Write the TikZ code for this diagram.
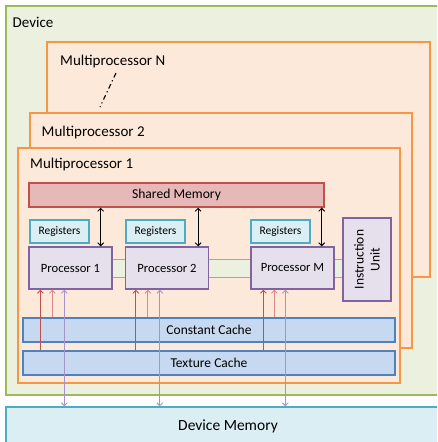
\documentclass[tikz,border=0pt]{standalone}
\usepackage{fontspec}
\setmainfont{Carlito}
\usetikzlibrary{arrows.meta}

\definecolor{devfill}{HTML}{EBF1DE}
\definecolor{devdraw}{HTML}{9BBB59}
\definecolor{mpfill}{HTML}{FDE9D9}
\definecolor{mpdraw}{HTML}{F79646}
\definecolor{smfill}{HTML}{E6B9B8}
\definecolor{smdraw}{HTML}{C0504D}
\definecolor{regfill}{HTML}{DBEEF4}
\definecolor{regdraw}{HTML}{4BACC6}
\definecolor{procfill}{HTML}{E5E0EC}
\definecolor{procdraw}{HTML}{8064A2}
\definecolor{cachefill}{HTML}{C6D9F1}
\definecolor{cachedraw}{HTML}{4F81BD}
\definecolor{redA}{HTML}{C0504D}
\definecolor{redB}{HTML}{D98A88}
\definecolor{purp}{HTML}{A893C8}

\tikzset{
  box/.style={draw, line width=1.3pt, inner sep=0pt, anchor=center},
  devbox/.style={box, fill=devfill, draw=devdraw},
  mpbox/.style={box, fill=mpfill, draw=mpdraw},
  smbox/.style={box, fill=smfill, draw=smdraw, font=\fontsize{13.6}{15}\selectfont},
  regbox/.style={box, fill=regfill, draw=regdraw, minimum width=59pt, minimum height=23pt, font=\fontsize{11.5}{13}\selectfont},
  procbox/.style={box, fill=procfill, draw=procdraw, minimum width=83pt, minimum height=42pt, font=\fontsize{12.6}{14}\selectfont},
  cachebox/.style={box, fill=cachefill, draw=cachedraw, minimum width=372pt, minimum height=24pt, font=\fontsize{13.5}{15}\selectfont},
  buswire/.style={box, fill=devfill, draw=devdraw, line width=1pt},
  title/.style={anchor=base west, inner sep=0pt, font=\fontsize{15}{17}\selectfont},
  smlink/.style={draw=black, line width=0.9pt, {Straight Barb[length=3pt,width=6pt]}-{Straight Barb[length=3pt,width=6pt]}},
  readA/.style={draw=redA, line width=0.9pt, -{Straight Barb[length=3pt,width=6pt]}},
  readB/.style={draw=redB, line width=0.9pt, -{Straight Barb[length=3pt,width=6pt]}},
  memlink/.style={draw=purp, line width=0.9pt, {Straight Barb[length=3pt,width=6pt]}-{Straight Barb[length=3pt,width=6pt]}},
}

\begin{document}
\begin{tikzpicture}[x=1pt, y=-1pt]
\clip (0,0) rectangle (437,442);

% device and its multiprocessors
\node[devbox, minimum width=444pt, minimum height=389pt] (dev) at (228,200.5) {};
\node[title] (devlbl) at (12.5,27.3) {Device};

\node[mpbox, minimum width=383pt, minimum height=235pt] (mpN) at (238.5,159.5) {};
\node[title] (mpNlbl) at (60,65.3) {Multiprocessor N};
\coordinate (dotsA) at (116,73);
\coordinate (dotsB) at (100,107);
\draw[line width=1.1pt, dash pattern=on 5pt off 3pt on 1.2pt off 3pt] (dotsA) -- (dotsB);

\node[mpbox, minimum width=382pt, minimum height=235pt] (mp2) at (221,230.5) {};
\node[title] (mp2lbl) at (41.5,136) {Multiprocessor 2};

\node[mpbox, minimum width=382pt, minimum height=235pt] (mp1) at (209,265.5) {};
\node[title] (mp1lbl) at (30,168.3) {Multiprocessor 1};

% shared memory and registers
\node[smbox, minimum width=295pt, minimum height=24pt] (sm) at (176.5,195) {Shared Memory};
\node[regbox] (reg1) at (59.5,231.5) {Registers};
\node[regbox] (reg2) at (155.5,231.5) {Registers};
\node[regbox] (reg3) at (280.5,231.5) {Registers};

% instruction bus behind the processors
\node[buswire, minimum width=273pt, minimum height=18pt] (bus) at (206.5,268) {};

% processors and instruction unit
\node[procbox] (p1) at (70.5,268) {Processor 1};
\node[procbox] (p2) at (167,268) {Processor 2};
\node[procbox] (pM) at (292.5,268) {Processor M};
\node[box, fill=procfill, draw=procdraw, minimum width=83pt, minimum height=48pt,
      rotate=90, align=center, font=\fontsize{13.5}{16}\selectfont] (iu) at (367,259.5) {Instruction\\Unit};

% caches
\node[cachebox] (cc) at (209,330) {Constant Cache};
\node[cachebox] (tc) at (209,363) {Texture Cache};

% device memory
\node[box, fill=regfill, draw=regdraw, minimum width=444pt, minimum height=38pt,
      font=\fontsize{15.5}{17}\selectfont] (dm) at (228,426) {Device Memory};

% shared memory links
\foreach \p/\dx in {p1/-12, p2/-11, pM/-13} {
  \coordinate (s-\p) at ([xshift=\dx pt]\p.north east);
  \draw[smlink] (sm.south -| s-\p) -- (s-\p);
}

% cache reads and device memory links
\foreach \p/\da/\db/\dc in {p1/12/24/36, p2/11/23/35, pM/13/24/35} {
  \coordinate (ta-\p) at ([xshift=\da pt]\p.south west);
  \coordinate (ca-\p) at ([xshift=\db pt]\p.south west);
  \coordinate (ma-\p) at ([xshift=\dc pt]\p.south west);
  \draw[readA] (tc.north -| ta-\p) -- (ta-\p);
  \draw[readB] (cc.north -| ca-\p) -- (ca-\p);
  \draw[memlink] (ma-\p) -- (dm.north -| ma-\p);
}
\end{tikzpicture}
\end{document}
